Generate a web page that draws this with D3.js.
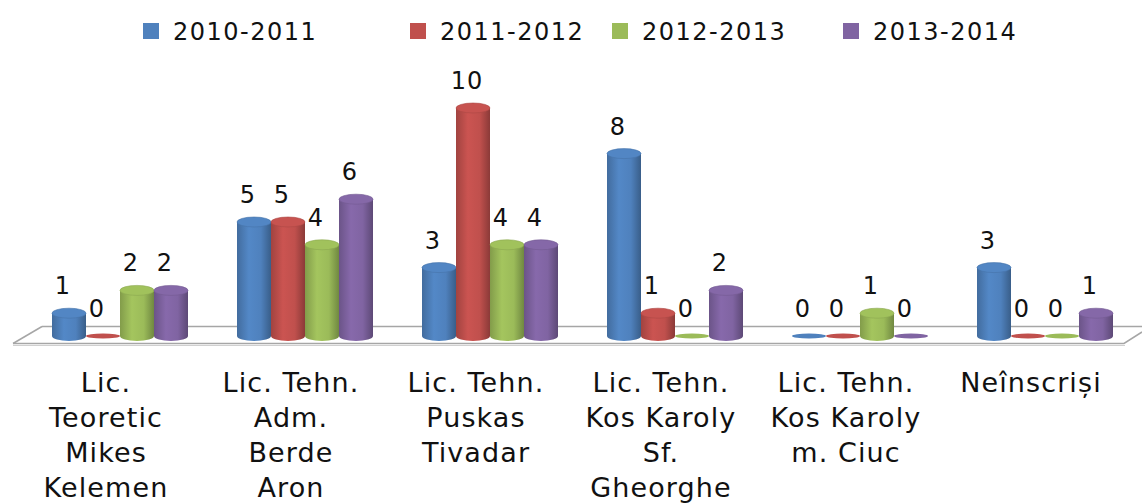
<!DOCTYPE html>
<html><head><meta charset="utf-8">
<script src="https://cdn.jsdelivr.net/npm/d3@7"></script>
<style>body{margin:0;background:#fff;} svg{display:block;}</style>
</head><body>
<script>
const categories = [
  ["Lic.", "Teoretic", "Mikes", "Kelemen"],
  ["Lic. Tehn.", "Adm.", "Berde", "Aron"],
  ["Lic. Tehn.", "Puskas", "Tivadar"],
  ["Lic. Tehn.", "Kos Karoly", "Sf.", "Gheorghe"],
  ["Lic. Tehn.", "Kos Karoly", "m. Ciuc"],
  ["Neînscriși"]
];
const seriesNames = ["2010-2011", "2011-2012", "2012-2013", "2013-2014"];
const s2010 = [1, 5, 3, 8, 0, 3];
const s2011 = [0, 5, 10, 1, 0, 0];
const s2012 = [2, 4, 4, 0, 1, 0];
const s2013 = [2, 6, 4, 2, 0, 1];
const seriesValues = [s2010, s2011, s2012, s2013];
const colors = ["#4F81BD", "#C0504D", "#9BBB59", "#8064A2"];

const W = 1142, H = 503;
const svg = d3.select("body").append("svg").attr("width", W).attr("height", H);
const defs = svg.append("defs");
const font = "'DejaVu Sans', sans-serif";

colors.forEach((c, i) => {
  const g = defs.append("linearGradient").attr("id", "g" + i).attr("x1", 0).attr("x2", 1).attr("y1", 0).attr("y2", 0);
  const base = d3.color(c);
  g.append("stop").attr("offset", "0%").attr("stop-color", base.darker(0.5));
  g.append("stop").attr("offset", "35%").attr("stop-color", base.brighter(0.15));
  g.append("stop").attr("offset", "70%").attr("stop-color", base);
  g.append("stop").attr("offset", "100%").attr("stop-color", base.darker(0.9));
});

const catIdx = d3.range(categories.length);
const x0 = d3.scaleBand().domain(catIdx).range([27.5, 1137.5]);
const x1 = d3.scaleBand().domain(d3.range(seriesNames.length)).range([0, 136]);
const y = d3.scaleLinear().domain([0, 10]).range([336, 108]);

// floor
const floor = svg.append("g").attr("fill", "none").attr("stroke", "#a6a6a6").attr("stroke-width", 1.5);
floor.append("path").attr("d", "M42,326.5 L1142,326.5");
floor.append("path").attr("d", "M13,343.5 L1124,343.5 L1142,332");
floor.append("path").attr("d", "M13,343.5 L42,326.5");
floor.append("path").attr("d", "M13,345.5 L1125,345.5").attr("stroke", "#d0d0d0").attr("stroke-width", 1);

const bw = x1.bandwidth();
const ry = 5;
const bars = svg.append("g");
catIdx.forEach(ci => {
  const cx0 = x0(ci) + x0.bandwidth() / 2 - 68;
  seriesValues.forEach((vals, si) => {
    const v = vals[ci];
    const xl = cx0 + x1(si);
    const cx = xl + bw / 2;
    const top = y(v), bot = y(0);
    const g = bars.append("g");
    if (v > 0) {
      g.append("path")
        .attr("d", `M${xl},${top} L${xl},${bot} A${bw/2},${ry} 0 0 0 ${xl+bw},${bot} L${xl+bw},${top} Z`)
        .attr("fill", `url(#g${si})`);
      g.append("ellipse").attr("cx", cx).attr("cy", top).attr("rx", bw / 2).attr("ry", ry)
        .attr("fill", d3.color(colors[si]).brighter(0.1)).attr("stroke", d3.color(colors[si]).darker(0.3)).attr("stroke-width", 0.6);
    } else {
      g.append("ellipse").attr("cx", cx).attr("cy", bot).attr("rx", bw / 2).attr("ry", 2.5)
        .attr("fill", colors[si]);
    }
    svg.append("text").attr("x", cx - 6).attr("y", top - 19)
      .attr("text-anchor", "middle").attr("font-family", font).attr("font-size", 24)
      .attr("letter-spacing", 1).attr("fill", "#111").text(v);
  });
});

// category labels
const labG = svg.append("g").attr("font-family", font).attr("font-size", 27).attr("letter-spacing", 1.1)
  .attr("fill", "#111").attr("text-anchor", "middle");
catIdx.forEach(ci => {
  const cx = x0(ci) + x0.bandwidth() / 2 - 14;
  const t = labG.append("text").attr("x", cx).attr("y", 392);
  categories[ci].forEach((line, li) => {
    t.append("tspan").attr("x", cx).attr("y", 392 + li * 35).text(line);
  });
});

// legend
const legX = [143, 410, 612, 843];
const leg = svg.append("g");
seriesNames.forEach((n, i) => {
  leg.append("rect").attr("x", legX[i]).attr("y", 23).attr("width", 16).attr("height", 16).attr("fill", colors[i]);
  leg.append("text").attr("x", legX[i] + 30).attr("y", 40).attr("font-family", font).attr("font-size", 24)
    .attr("fill", "#111").attr("letter-spacing", 1.5).text(n);
});
</script>
</body></html>
